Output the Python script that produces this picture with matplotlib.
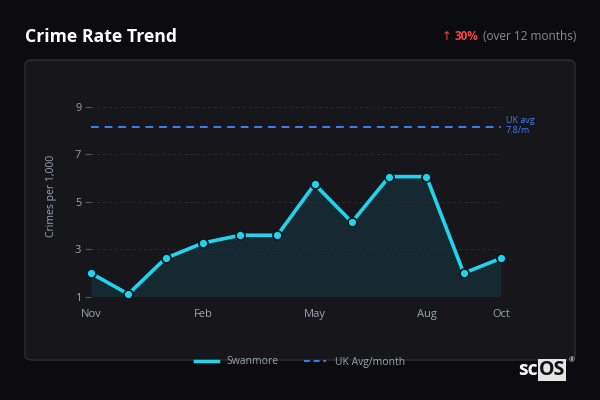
import matplotlib.pyplot as plt
from matplotlib.patches import FancyBboxPatch
from matplotlib.lines import Line2D

plt.rcParams['font.family'] = ['Open Sans', 'DejaVu Sans']

# data
months = ["Nov", "Dec", "Jan", "Feb", "Mar", "Apr", "May", "Jun", "Jul", "Aug", "Sep", "Oct"]
rates = [1.99, 1.11, 2.62, 3.26, 3.59, 3.59, 5.74, 4.14, 6.06, 6.06, 1.99, 2.62]
uk_avg_line = 8.15
tick_months = ["Nov", "Feb", "May", "Aug", "Oct"]
yticks = [1, 3, 5, 7, 9]

bg = "#0c0c10"
panel = "#16161b"
cyan = "#22d3ee"
blue = "#3b82f6"
grey = "#9ca3af"

fig = plt.figure(figsize=(6, 4), dpi=100, facecolor=bg)

# rounded panel behind the chart
box = FancyBboxPatch((25 / 600, 40 / 400), 550 / 600, 300 / 400,
                     boxstyle="round,pad=0,rounding_size=0.012",
                     transform=fig.transFigure, facecolor=panel,
                     edgecolor="#2c2c33", linewidth=1, zorder=-5)
fig.patches.append(box)

ax = fig.add_axes([91 / 600, 103.3 / 400, 410 / 600, 201.7 / 400])
ax.set_facecolor("none")

x = list(range(len(months)))
ax.fill_between(x, rates, 1, color=cyan, alpha=0.1, linewidth=0)
ax.plot(x, rates, color=cyan, linewidth=2.6, marker="o", markersize=6.5,
        markerfacecolor=cyan, markeredgecolor="#0b1a1f", markeredgewidth=1.3, zorder=4,
        clip_on=False)
ax.axhline(uk_avg_line, color=blue, linestyle=(0, (4, 3)), linewidth=1.4)

ax.set_xlim(0, 11)
ax.set_ylim(1, 9.5)
ax.set_xticks([months.index(m) for m in tick_months])
ax.set_xticklabels(tick_months)
ax.set_yticks(yticks)
ax.tick_params(axis="x", length=0, colors=grey, labelsize=8, pad=9)
ax.tick_params(axis="y", length=4, width=0.8, color="#55555c", colors=grey, labelsize=8, pad=3)
ax.grid(axis="y", color="#2a2a30", linestyle=(0, (3, 3)), linewidth=0.7)
for s in ax.spines.values():
    s.set_visible(False)
ax.set_ylabel("Crimes per 1,000", color=grey, fontsize=7.5, labelpad=13)

ax.text(1.012, uk_avg_line + 0.05, "UK avg\n7.8/m", transform=ax.get_yaxis_transform(),
        color=blue, fontsize=6.5, va="center", ha="left", linespacing=1.1)

# header
fig.text(25 / 600, 1 - 37 / 400, "Crime Rate Trend", color="white", fontsize=12.7,
         fontweight="bold", va="center", ha="left")
fig.text(576 / 600, 1 - 37 / 400, "(over 12 months)", color="#8b8b93", fontsize=8.5,
         va="center", ha="right")
fig.text(478 / 600, 1 - 37 / 400, "30%", color="#ef4444", fontsize=8.5,
         fontweight="bold", va="center", ha="right")
fig.text(451 / 600, 1 - 37 / 400, "↑", color="#ef4444", fontsize=8.5,
         va="center", ha="right")

# legend
handles = [Line2D([], [], color=cyan, linewidth=2.5),
           Line2D([], [], color=blue, linewidth=1.4, linestyle=(0, (3, 2)))]
leg = fig.legend(handles, ["Swanmore", "UK Avg/month"], loc="center",
                 bbox_to_anchor=(300 / 600, 1 - 362 / 400), ncol=2, frameon=False,
                 fontsize=7.5, handlelength=2.2, columnspacing=2.4, labelcolor=grey)

# logo
fig.text(538 / 600, 1 - 370 / 400, "sc", color="white", fontsize=14, fontweight="bold",
         va="center", ha="right")
fig.text(539 / 600, 1 - 370 / 400, "OS", color="#111111", fontsize=14, fontweight="bold",
         va="center", ha="left",
         bbox=dict(boxstyle="square,pad=0.05", facecolor="#e5e5e5", edgecolor="none"))
fig.text(572 / 600, 1 - 361 / 400, "®", color="white", fontsize=5, va="center", ha="center")

fig.savefig("out.png", dpi=100, facecolor=bg)
